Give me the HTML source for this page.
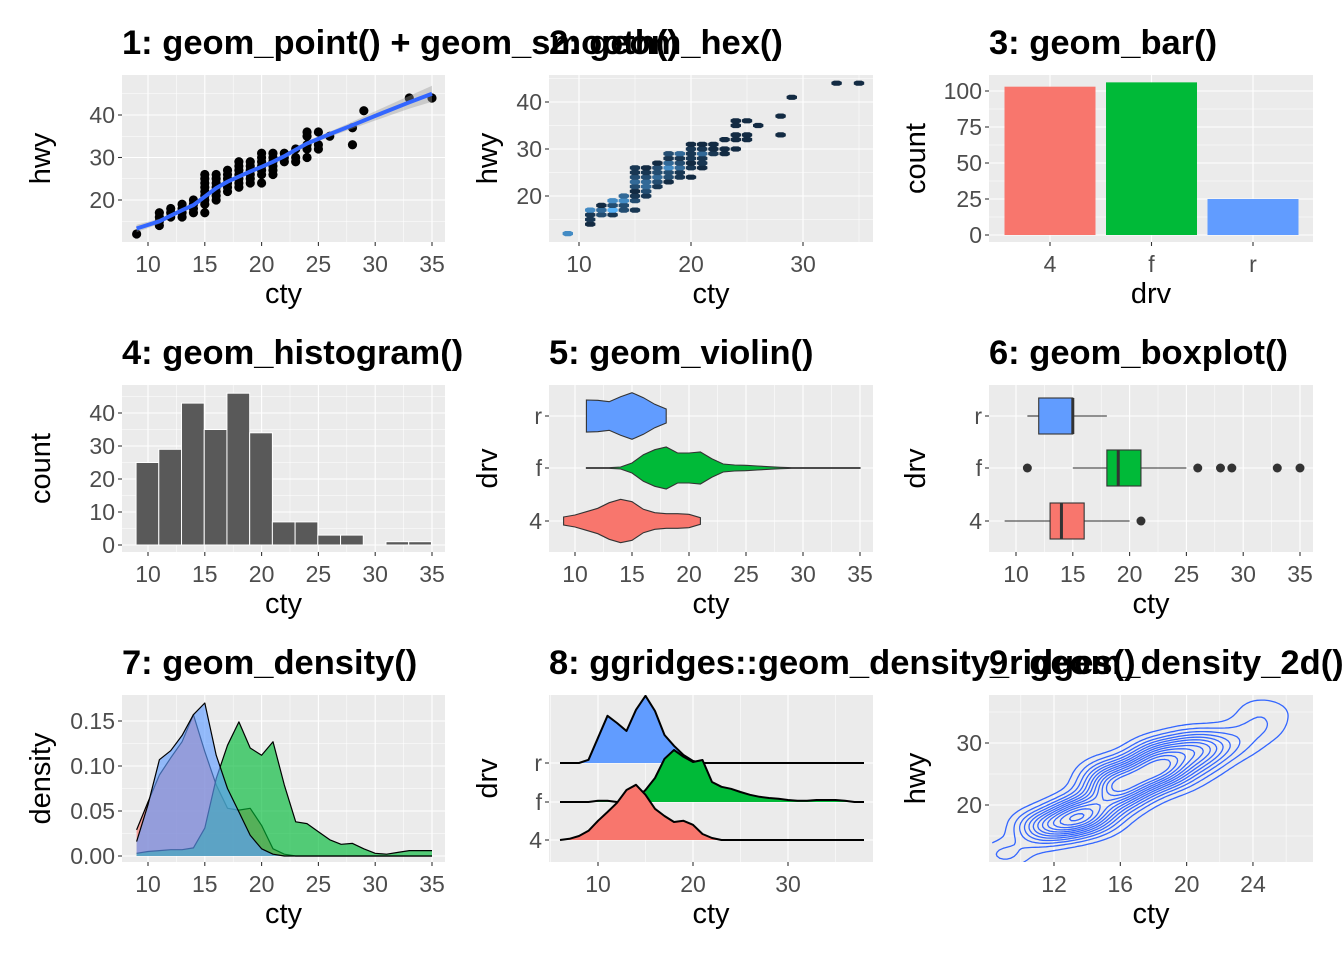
<!DOCTYPE html>
<html><head><meta charset="utf-8"><style>
html,body{margin:0;padding:0;background:#fff;}
svg{display:block;font-family:"Liberation Sans",Arial,sans-serif;}
</style></head><body>
<svg id="chart" width="1344" height="960" viewBox="0 0 1344 960" xmlns="http://www.w3.org/2000/svg"></svg>
<script>
// ---------- data ----------
const ptCty=[9,11,11,11,11,12,12,12,13,13,13,13,14,14,14,14,15,15,15,15,15,15,15,15,15,16,16,16,16,16,16,16,17,17,17,17,17,17,18,18,18,18,18,18,18,19,19,19,19,19,19,20,20,20,20,20,20,20,21,21,21,21,21,21,22,22,22,23,23,23,24,24,24,24,24,25,25,25,26,28,28,29,33,35];
const ptHwy=[12,14,15,16,17,16,17,18,16,17,18,19,17,18,19,20,17,19,20,21,22,23,24,25,26,20,21,22,23,24,25,26,22,23,24,25,26,27,23,24,25,26,27,28,29,24,25,26,27,28,29,24,26,27,28,29,30,31,26,27,28,29,30,31,29,30,31,29,30,32,30,32,33,35,36,32,33,36,35,33,37,41,44,44];
const ptN=[5,1,2,2,5,3,4,1,2,6,3,5,3,3,5,4,2,3,2,1,3,4,3,2,2,2,3,4,4,3,2,1,2,3,4,3,3,1,1,3,3,5,4,2,3,2,2,4,3,2,4,1,2,1,2,2,2,1,1,2,2,4,2,1,2,1,1,1,1,1,1,1,1,1,1,1,1,1,1,1,1,1,1,1];
const smoothX=[9,11,12,13,14,15,16,17,18,19,20,21,22,23,24,26,28,30,33,35];
const smoothY=[13.3,15,16.3,17.6,18.8,20.8,22.8,24.3,25.5,26.7,27.8,29,30.3,31.8,33.3,35.5,37.6,39.8,43,45];
const smoothSe=[0.9,0.6,0.5,0.45,0.4,0.4,0.4,0.35,0.35,0.35,0.35,0.35,0.4,0.45,0.5,0.6,0.8,1.1,1.5,1.9];
const barCats=['4','f','r'];
const barCounts=[103,106,25];
const histCounts=[25,29,43,35,46,34,7,7,3,3,0,1,1];
const histStart=8.95, histWidth=2;
const violinCats=['r','f','4'];
const violinX=[[11,12,13,14,15,16,17,18],[11,12,13,14,15,16,17,18,19,20,21,22,23,24,25,26,27,28,29,30,31,32,33,34,35],[9,10,11,12,13,14,15,16,17,18,19,20,21]];
const violinW=[[48,47,43,58,70,55,35,21],[1,1,1,3,15,40,55,63,45,45,48,28,12,9,8,6,4,2,1,1,1,1,1,1,1],[12,18,28,38,55,65,58,35,25,22,22,20,10]];
const boxCats=['r','f','4'];
const boxStats=[[11,12,15,15,18],[15,18,19,21,25],[9,13,14,16,20]];
const boxOut=[[],[11,26,28,29,33,35],[21]];
const densX=[9,10,11,12,13,14,15,16,17,18,19,20,21,22,23,24,25,26,27,28,29,30,31,32,33,34,35];
const dens4=[0.029,0.060,0.090,0.109,0.127,0.157,0.116,0.079,0.053,0.051,0.053,0.034,0.008,0.002,0,0,0,0,0,0,0,0,0,0,0,0,0];
const densF=[0.003,0.005,0.006,0.007,0.007,0.009,0.031,0.086,0.123,0.149,0.120,0.112,0.127,0.079,0.038,0.036,0.027,0.018,0.013,0.014,0.008,0.003,0.002,0.004,0.006,0.006,0.006];
const densR=[0.016,0.057,0.107,0.117,0.134,0.157,0.170,0.112,0.075,0.049,0.023,0.008,0.002,0,0,0,0,0,0,0,0,0,0,0,0,0,0];
const ridgeX=[6,7,8,9,10,11,12,13,14,15,16,17,18,19,20,21,22,23,24,25,26,27,28,29,30,31,32,33,34,35,36,37,38];
const ridgeR=[0,0,0,0.008,0.063,0.118,0.1,0.08,0.133,0.168,0.13,0.07,0.043,0.02,0.005,0,0,0,0,0,0,0,0,0,0,0,0,0,0,0,0,0,0];
const ridgeF=[0,0,0,0,0.003,0.003,0,0,0.008,0.03,0.06,0.108,0.13,0.113,0.1,0.105,0.05,0.038,0.033,0.025,0.018,0.013,0.01,0.008,0.005,0.003,0.003,0.005,0.005,0.005,0.003,0,0];
const ridge4=[0,0.003,0.01,0.023,0.048,0.07,0.093,0.125,0.138,0.113,0.078,0.06,0.045,0.048,0.038,0.015,0.005,0,0,0,0,0,0,0,0,0,0,0,0,0,0,0,0];
const COLS={'4':'#F8766D','f':'#00BA38','r':'#619CFF'};

// ---------- helpers ----------
const NS='http://www.w3.org/2000/svg';
const svg=document.getElementById('chart');
function mk(tag,attrs,name,parent){
  const el=document.createElementNS(NS,tag);
  for(const k in attrs) el.setAttribute(k,attrs[k]);
  
  
  (parent||svg).appendChild(el);
  return el;
}
function txt(s,attrs,name,parent){const t=mk('text',attrs,name,parent);t.textContent=s;return t;}
let clipId=0;
function panel(p){
  const g=mk('g',{},p.name);
  mk('rect',{x:p.x0,y:p.y0,width:p.w,height:p.h,fill:'#EBEBEB'},'panel-background',g);
  (p.xMin||[]).forEach(v=>{const x=p.sx(v);mk('line',{x1:x,x2:x,y1:p.y0,y2:p.y0+p.h,stroke:'#fff','stroke-width':0.55},'x-minor-grid',g);});
  (p.yMin||[]).forEach(v=>{const y=p.sy(v);mk('line',{x1:p.x0,x2:p.x0+p.w,y1:y,y2:y,stroke:'#fff','stroke-width':0.55},'y-minor-grid',g);});
  p.xMaj.forEach((v,i)=>{const x=p.sx(v);
    mk('line',{x1:x,x2:x,y1:p.y0,y2:p.y0+p.h,stroke:'#fff','stroke-width':1.1},'x-major-grid',g);
    mk('line',{x1:x,x2:x,y1:p.y0+p.h,y2:p.y0+p.h+4,stroke:'#333','stroke-width':1.1},'x-tick',g);
    txt(p.xLab?p.xLab[i]:String(v),{x:x,y:p.y0+p.h+30,'text-anchor':'middle','font-size':23,fill:'#4D4D4D'},'x-tick-label',g);});
  p.yMaj.forEach((v,i)=>{const y=p.sy(v);
    mk('line',{x1:p.x0,x2:p.x0+p.w,y1:y,y2:y,stroke:'#fff','stroke-width':1.1},'y-major-grid',g);
    mk('line',{x1:p.x0-4,x2:p.x0,y1:y,y2:y,stroke:'#333','stroke-width':1.1},'y-tick',g);
    txt(p.yLab?p.yLab[i]:String(v),{x:p.x0-7,y:y+8,'text-anchor':'end','font-size':23,fill:'#4D4D4D'},'y-tick-label',g);});
  txt(p.title,{x:p.x0,y:p.y0-21,'font-size':34.5,'font-weight':'bold',fill:'#000'},'panel-title',g);
  txt(p.xTitle,{x:p.x0+p.w/2,y:p.y0+p.h+61,'text-anchor':'middle','font-size':29,fill:'#000'},'x-axis-title',g);
  const cy=p.y0+p.h/2;
  txt(p.yTitle,{x:p.yTx,y:cy,'text-anchor':'middle','font-size':29,fill:'#000',transform:`rotate(-90 ${p.yTx} ${cy})`},'y-axis-title',g);
  const id='clip'+(clipId++);
  const cp=mk('clipPath',{id:id},'clip',g);
  mk('rect',{x:p.x0,y:p.y0,width:p.w,height:p.h},'clip-rect',cp);
  return mk('g',{'clip-path':`url(#${id})`},'marks',g);
}
const C1={x0:122,w:323},C2={x0:549,w:324},C3={x0:989,w:324};
const R1={y0:75,h:167},R2={y0:385,h:167},R3={y0:695,h:167};
const rng=(a,b,s)=>{const r=[];for(let v=a;v<=b+1e-9;v+=s)r.push(+v.toFixed(4));return r;};
const toPath=pts=>pts.map((p,i)=>(i?'L':'M')+p[0].toFixed(1)+' '+p[1].toFixed(1)).join(' ');

// ---------- 1: point + smooth ----------
{const sx=c=>148+11.36*(c-10), sy=h=>200-4.25*(h-20);
 const g=panel({name:'panel-point-smooth',...C1,...R1,sx,sy,xMaj:rng(10,35,5),xMin:rng(7.5,37.5,5),yMaj:[20,30,40],yMin:[15,25,35,45],title:'1: geom_point() + geom_smooth()',xTitle:'cty',yTitle:'hwy',yTx:50});
 ptCty.forEach((c,i)=>{mk('circle',{cx:sx(c),cy:sy(ptHwy[i]),r:4.6,fill:'#000'},'point',g);});
 const up=smoothX.map((c,i)=>[sx(c),sy(smoothY[i]+smoothSe[i])]);
 const dn=smoothX.map((c,i)=>[sx(c),sy(smoothY[i]-smoothSe[i])]).reverse();
 mk('path',{d:toPath(up.concat(dn))+'Z',fill:'#999','fill-opacity':0.4},'smooth-ci-band',g);
 mk('path',{d:toPath(smoothX.map((c,i)=>[sx(c),sy(smoothY[i])])),fill:'none',stroke:'#3366FF','stroke-width':4},'smooth-line',g);}

// ---------- 2: hex ----------
{const sx=c=>579+11.2*(c-10), sy=h=>196-4.7*(h-20);
 const g=panel({name:'panel-hex',...C2,...R1,sx,sy,xMaj:[10,20,30],xMin:[15,25,35],yMaj:[20,30,40],yMin:[15,25,35,45],title:'2: geom_hex()',xTitle:'cty',yTitle:'hwy',yTx:497});
 const mx=Math.max(...ptN);
 ptCty.forEach((c,i)=>{const x=sx(c),y=sy(ptHwy[i]);const t=Math.pow((ptN[i]-1)/(mx-1),1.5);
  const col=`rgb(${Math.round(19+t*67)},${Math.round(43+t*134)},${Math.round(67+t*180)})`;
  mk('polygon',{points:`${x-5.2},${y-1.3} ${x-2.6},${y-2.6} ${x+2.6},${y-2.6} ${x+5.2},${y-1.3} ${x+5.2},${y+1.3} ${x+2.6},${y+2.6} ${x-2.6},${y+2.6} ${x-5.2},${y+1.3}`,fill:col},'hex-cell',g);});}

// ---------- 3: bar ----------
{const cx=k=>1050+101.5*barCats.indexOf(k), sy=v=>235-1.44*v;
 const g=panel({name:'panel-bar',...C3,...R1,sx:cx,sy,xMaj:barCats,yMaj:[0,25,50,75,100],yMin:[12.5,37.5,62.5,87.5],title:'3: geom_bar()',xTitle:'drv',yTitle:'count',yTx:925});
 barCats.forEach((k,i)=>{mk('rect',{x:cx(k)-45.5,y:sy(barCounts[i]),width:91,height:sy(0)-sy(barCounts[i]),fill:COLS[k]},'bar-'+k,g);});}

// ---------- 4: histogram ----------
{const sx=c=>148+11.36*(c-10), sy=v=>545-3.3*v;
 const g=panel({name:'panel-histogram',...C1,...R2,sx,sy,xMaj:rng(10,35,5),xMin:rng(7.5,37.5,5),yMaj:[0,10,20,30,40],yMin:[5,15,25,35,45],title:'4: geom_histogram()',xTitle:'cty',yTitle:'count',yTx:50});
 histCounts.forEach((n,i)=>{const a=histStart+i*histWidth;
  mk('rect',{x:sx(a),y:sy(n),width:sx(a+histWidth)-sx(a),height:sy(0)-sy(n),fill:'#595959',stroke:'#fff','stroke-width':1},'histogram-bar',g);});}

// ---------- 5: violin ----------
{const sx=c=>575+11.4*(c-10), cy=k=>({r:416,f:468,'4':521})[k];
 const g=panel({name:'panel-violin',...C2,...R2,sx,sy:cy,xMaj:rng(10,35,5),xMin:rng(7.5,37.5,5),yMaj:violinCats,title:'5: geom_violin()',xTitle:'cty',yTitle:'drv',yTx:497});
 violinCats.forEach((k,gi)=>{const xs=violinX[gi],ws=violinW[gi],y0=cy(k);
  const top=xs.map((c,i)=>[sx(c),y0-ws[i]/3]);const bot=xs.map((c,i)=>[sx(c),y0+ws[i]/3]).reverse();
  mk('path',{d:toPath(top.concat(bot))+'Z',fill:COLS[k],stroke:'#333','stroke-width':1.1},'violin-'+k,g);});}

// ---------- 6: boxplot ----------
{const sx=c=>1016+11.36*(c-10), cy=k=>({r:416,f:468,'4':521})[k];
 const g=panel({name:'panel-boxplot',...C3,...R2,sx,sy:cy,xMaj:rng(10,35,5),xMin:rng(7.5,37.5,5),yMaj:boxCats,title:'6: geom_boxplot()',xTitle:'cty',yTitle:'drv',yTx:925});
 boxCats.forEach((k,i)=>{const s=boxStats[i],y=cy(k);
  mk('line',{x1:sx(s[0]),x2:sx(s[1]),y1:y,y2:y,stroke:'#333','stroke-width':1.1},'whisker-low',g);
  mk('line',{x1:sx(s[3]),x2:sx(s[4]),y1:y,y2:y,stroke:'#333','stroke-width':1.1},'whisker-high',g);
  mk('rect',{x:sx(s[1]),y:y-18,width:sx(s[3])-sx(s[1]),height:36,fill:COLS[k],stroke:'#333','stroke-width':1.1},'box-'+k,g);
  mk('line',{x1:sx(s[2]),x2:sx(s[2]),y1:y-18,y2:y+18,stroke:'#333','stroke-width':3},'median',g);
  boxOut[i].forEach(o=>{mk('circle',{cx:sx(o),cy:y,r:4.5,fill:'#333'},'outlier',g);});});}

// ---------- 7: density ----------
{const sx=c=>148+11.36*(c-10), sy=d=>856-900*d;
 const g=panel({name:'panel-density',...C1,...R3,sx,sy,xMaj:rng(10,35,5),xMin:rng(7.5,37.5,5),yMaj:[0,0.05,0.10,0.15],yLab:['0.00','0.05','0.10','0.15'],yMin:[0.025,0.075,0.125],title:'7: geom_density()',xTitle:'cty',yTitle:'density',yTx:50});
 [['4',dens4],['f',densF],['r',densR]].forEach(([k,arr])=>{
  const pts=densX.map((c,i)=>[sx(c),sy(arr[i])]);
  mk('path',{d:toPath([[sx(densX[0]),sy(0)]].concat(pts,[[sx(densX[densX.length-1]),sy(0)]]))+'Z',fill:COLS[k],'fill-opacity':0.65,stroke:'none'},'density-area-'+k,g);
  mk('path',{d:toPath(pts),fill:'none',stroke:'#000','stroke-width':1.2,'stroke-linejoin':'round'},'density-line-'+k,g);});}

// ---------- 8: ridges ----------
{const sx=c=>598+9.5*(c-10), base=k=>({r:763,f:802,'4':840})[k];
 const g=panel({name:'panel-ridges',...C2,...R3,sx,sy:base,xMaj:[10,20,30],xMin:[5,15,25,35],yMaj:['4','f','r'],title:'8: ggridges::geom_density_ridges()',xTitle:'cty',yTitle:'drv',yTx:497});
 [['r',ridgeR],['f',ridgeF],['4',ridge4]].forEach(([k,arr])=>{const b=base(k);
  const pts=ridgeX.map((c,i)=>[sx(c),b-400*arr[i]]);
  mk('path',{d:toPath([[sx(ridgeX[0]),b]].concat(pts,[[sx(ridgeX[ridgeX.length-1]),b]]))+'Z',fill:COLS[k],stroke:'none'},'ridge-area-'+k,g);
  mk('path',{d:toPath(pts),fill:'none',stroke:'#000','stroke-width':2,'stroke-linejoin':'round'},'ridge-line-'+k,g);});}

// ---------- 9: density 2d ----------
{const sx=c=>1054+16.58*(c-12), sy=h=>805-6.2*(h-20);
 const g=panel({name:'panel-density-2d',...C3,...R3,sx,sy,xMaj:[12,16,20,24],xMin:[10,14,18,22,26],yMaj:[20,30],yMin:[15,25,35],title:'9: geom_density_2d()',xTitle:'cty',yTitle:'hwy',yTx:925});
 const nx=90,ny=90,xa=8.3,xb=27.5,ya=10.5,yb=38.5,hx=1.1,hy=1.7;
 const gx=[],gy=[],f=[];
 for(let i=0;i<nx;i++)gx.push(xa+(xb-xa)*i/(nx-1));
 for(let j=0;j<ny;j++)gy.push(ya+(yb-ya)*j/(ny-1));
 let mx=0;
 for(let i=0;i<nx;i++){f.push([]);for(let j=0;j<ny;j++){let s=0;
  ptCty.forEach((c,k)=>{if(c>27)return;const dx=(gx[i]-c)/hx,dy=(gy[j]-ptHwy[k])/hy;s+=ptN[k]*Math.exp(-0.5*(dx*dx+dy*dy));});
  f[i].push(s);if(s>mx)mx=s;}}
 for(let L=0;L<12;L++){const lv=mx*(0.08+L*0.075);let d='';
  for(let i=0;i<nx-1;i++)for(let j=0;j<ny-1;j++){
   const v=[f[i][j],f[i+1][j],f[i+1][j+1],f[i][j+1]];
   const P=[[gx[i],gy[j]],[gx[i+1],gy[j]],[gx[i+1],gy[j+1]],[gx[i],gy[j+1]]];
   const cr=[];
   for(let e=0;e<4;e++){const a=v[e],b=v[(e+1)%4];
    if((a<lv)!==(b<lv)){const t=(lv-a)/(b-a);const p=P[e],q=P[(e+1)%4];cr.push([sx(p[0]+t*(q[0]-p[0])),sy(p[1]+t*(q[1]-p[1]))]);}}
   for(let m=0;m+1<cr.length;m+=2)d+=`M${cr[m][0].toFixed(1)} ${cr[m][1].toFixed(1)}L${cr[m+1][0].toFixed(1)} ${cr[m+1][1].toFixed(1)}`;}
  if(d)mk('path',{d:d,fill:'none',stroke:'#3366FF','stroke-width':1.3,'stroke-linecap':'round'},'contour-level',g);}}
</script>
</body></html>
